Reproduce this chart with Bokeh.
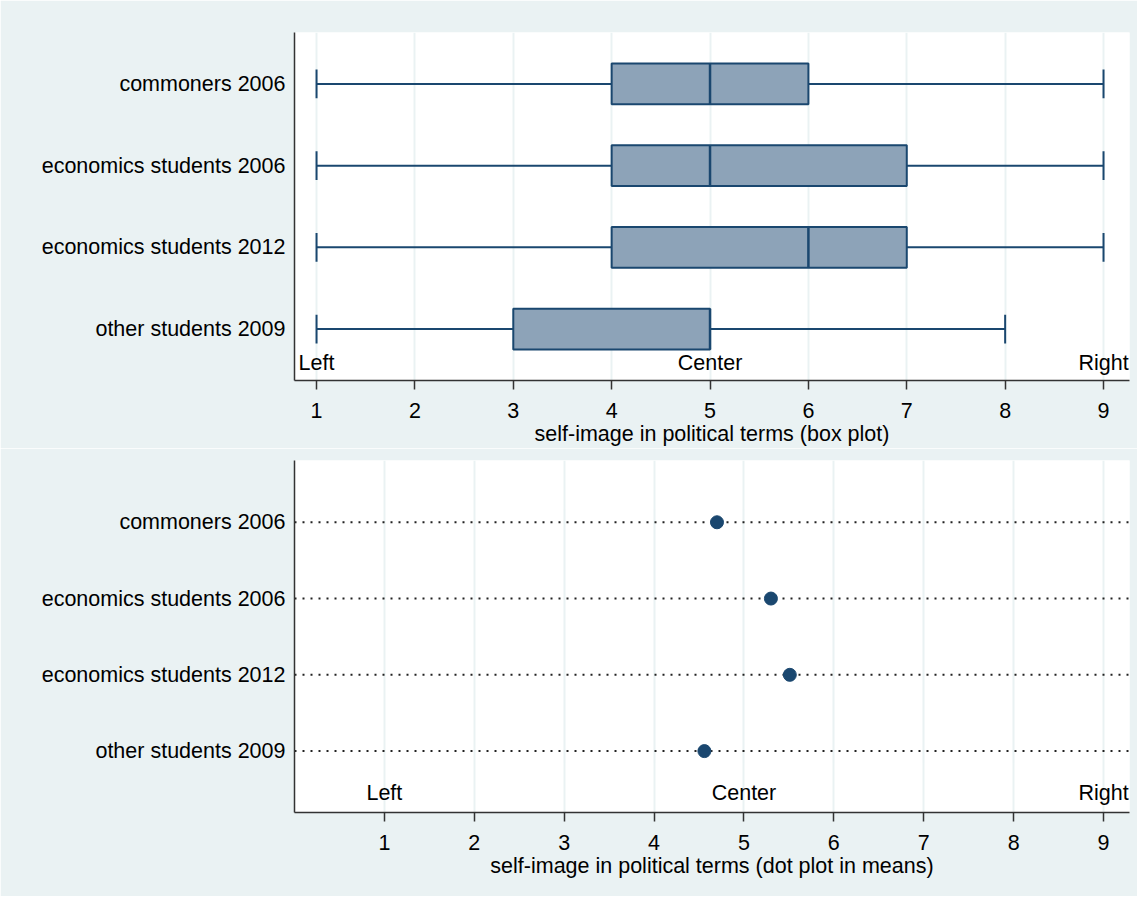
from bokeh.plotting import figure
from bokeh.layouts import column
from bokeh.models import FixedTicker, Range1d, LabelSet, ColumnDataSource
from bokeh.core.properties import value
from bokeh.embed import file_html
from bokeh.resources import INLINE

# ---- data ----
categories = ["commoners 2006", "economics students 2006",
              "economics students 2012", "other students 2009"]
box_min = [1, 1, 1, 1]
box_q1 = [4, 4, 4, 3]
box_median = [5, 5, 6, 5]
box_q3 = [6, 7, 7, 5]
box_max = [9, 9, 9, 8]
means = [4.70, 5.30, 5.51, 4.56]
scale_labels = ["Left", "Center", "Right"]
scale_pos = [1, 5, 9]
x_ticks = [1, 2, 3, 4, 5, 6, 7, 8, 9]

NAVY = "#1A476F"
BOXFILL = "#8DA3B8"
BG = "#EAF2F3"
FONT = "Liberation Sans"
FS = "21.5px"

ypos = [len(categories) - i for i in range(len(categories))]  # 4,3,2,1
overrides = {y: c for y, c in zip(ypos, categories)}


def style(p, xlabel):
    p.background_fill_color = "white"
    p.border_fill_color = BG
    p.outline_line_color = None
    p.xgrid.grid_line_color = BG
    p.xgrid.grid_line_width = 2
    p.ygrid.grid_line_color = None
    p.xaxis.ticker = FixedTicker(ticks=x_ticks)
    p.xaxis.axis_label = xlabel
    p.xaxis.axis_label_text_font = FONT
    p.xaxis.axis_label_text_font_size = FS
    p.xaxis.axis_label_text_font_style = "normal"
    p.xaxis.axis_label_text_color = "black"
    p.xaxis.axis_label_standoff = 1
    p.xaxis.major_label_text_font = FONT
    p.xaxis.major_label_text_font_size = FS
    p.xaxis.major_label_text_color = "black"
    p.xaxis.major_label_standoff = 13
    p.xaxis.major_tick_out = 9
    p.xaxis.major_tick_in = 0
    p.xaxis.minor_tick_line_color = None
    p.xaxis.major_tick_line_color = "#333333"
    p.xaxis.major_tick_line_width = 1.5
    p.xaxis.axis_line_color = "#333333"
    p.xaxis.axis_line_width = 1.5
    p.yaxis.ticker = FixedTicker(ticks=ypos)
    p.yaxis.major_label_overrides = overrides
    p.yaxis.major_label_text_font = FONT
    p.yaxis.major_label_text_font_size = FS
    p.yaxis.major_label_text_color = "black"
    p.yaxis.major_label_standoff = 9
    p.yaxis.major_tick_out = 0
    p.yaxis.major_tick_in = 0
    p.yaxis.minor_tick_line_color = None
    p.yaxis.major_tick_line_color = None
    p.yaxis.axis_line_color = "#333333"
    p.yaxis.axis_line_width = 1.5


def scale_text(p, ylevel):
    src = ColumnDataSource(dict(x=scale_pos, y=[ylevel] * len(scale_pos), t=scale_labels))
    p.add_layout(LabelSet(x="x", y="y", text="t", source=src, text_align="center",
                          text_baseline="middle", text_font=value(FONT),
                          text_font_size=value(FS), text_color="black"))


# ---- top: box plot ----
p1 = figure(width=1137, height=448, output_backend="svg", toolbar_location=None,
            x_range=Range1d(0.776, 9.264), y_range=Range1d(0.371, 4.629),
            min_border_left=294, min_border_right=8, min_border_top=32,
            min_border_bottom=64)
style(p1, "self-image in political terms (box plot)")

bh = 0.25   # half box height
ch = 0.175  # half cap length
p1.segment(x0=box_min, y0=ypos, x1=box_q1, y1=ypos, line_color=NAVY, line_width=2)
p1.segment(x0=box_q3, y0=ypos, x1=box_max, y1=ypos, line_color=NAVY, line_width=2)
p1.segment(x0=box_min, y0=[y - ch for y in ypos], x1=box_min, y1=[y + ch for y in ypos],
           line_color=NAVY, line_width=2)
p1.segment(x0=box_max, y0=[y - ch for y in ypos], x1=box_max, y1=[y + ch for y in ypos],
           line_color=NAVY, line_width=2)
p1.hbar(y=ypos, left=box_q1, right=box_q3, height=2 * bh,
        fill_color=BOXFILL, line_color=NAVY, line_width=2)
p1.segment(x0=box_median, y0=[y - bh for y in ypos], x1=box_median,
           y1=[y + bh for y in ypos], line_color=NAVY, line_width=2.5)
scale_text(p1, 0.58)

# ---- bottom: dot plot of means ----
p2 = figure(width=1137, height=448, output_backend="svg", toolbar_location=None,
            x_range=Range1d(0.0, 9.289), y_range=Range1d(0.195, 4.81),
            min_border_left=294, min_border_right=8, min_border_top=12,
            min_border_bottom=84)
style(p2, "self-image in political terms (dot plot in means)")
p2.segment(x0=[0] * 4, y0=ypos, x1=[9.4] * 4, y1=ypos, line_color="#222222",
           line_width=2, line_dash="2 6")
p2.scatter(x=means, y=ypos, size=13, fill_color=NAVY, line_color=NAVY)
scale_text(p2, 0.446)

layout = column(p1, p2, spacing=0)
open("out.html", "w").write(file_html(layout, INLINE))
